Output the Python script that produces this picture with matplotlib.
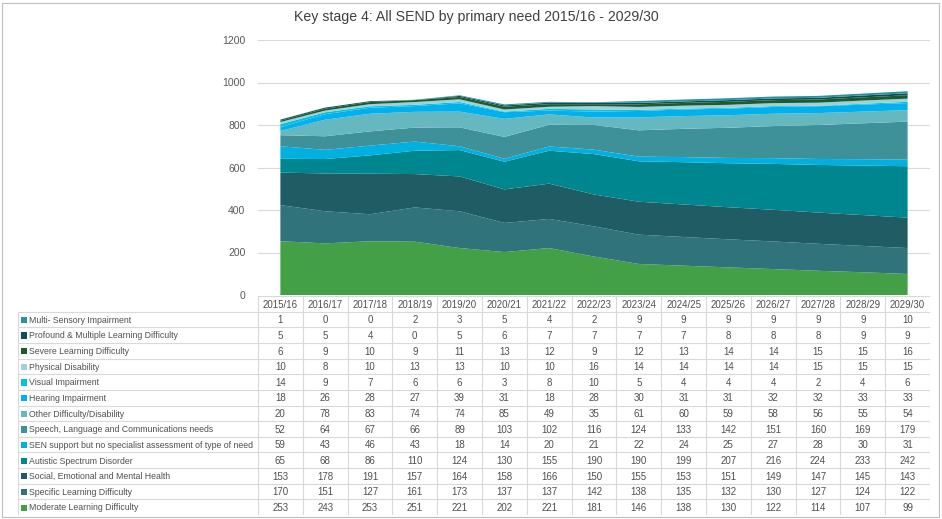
import numpy as np
import matplotlib.pyplot as plt
from matplotlib.patches import Rectangle

plt.rcParams['font.family'] = ['Liberation Sans', 'DejaVu Sans']

years = ['2015/16', '2016/17', '2017/18', '2018/19', '2019/20', '2020/21', '2021/22',
         '2022/23', '2023/24', '2024/25', '2025/26', '2026/27', '2027/28', '2028/29', '2029/30']

# table order (top to bottom); the stack is drawn in reverse
needs = [
    'Multi- Sensory Impairment',
    'Profound & Multiple Learning Difficulty',
    'Severe Learning Difficulty',
    'Physical Disability',
    'Visual Impairment',
    'Hearing Impairment',
    'Other Difficulty/Disability',
    'Speech, Language and Communications needs',
    'SEN support but no specialist assessment of type of need',
    'Autistic Spectrum Disorder',
    'Social, Emotional and Mental Health',
    'Specific Learning Difficulty',
    'Moderate Learning Difficulty',
]

multi_sensory = [1, 0, 0, 2, 3, 5, 4, 2, 9, 9, 9, 9, 9, 9, 10]
profound = [5, 5, 4, 0, 5, 6, 7, 7, 7, 7, 8, 8, 8, 9, 9]
severe = [6, 9, 10, 9, 11, 13, 12, 9, 12, 13, 14, 14, 15, 15, 16]
physical = [10, 8, 10, 13, 13, 10, 10, 16, 14, 14, 14, 14, 15, 15, 15]
visual = [14, 9, 7, 6, 6, 3, 8, 10, 5, 4, 4, 4, 2, 4, 6]
hearing = [18, 26, 28, 27, 39, 31, 18, 28, 30, 31, 31, 32, 32, 33, 33]
other = [20, 78, 83, 74, 74, 85, 49, 35, 61, 60, 59, 58, 56, 55, 54]
speech = [52, 64, 67, 66, 89, 103, 102, 116, 124, 133, 142, 151, 160, 169, 179]
sen_support = [59, 43, 46, 43, 18, 14, 20, 21, 22, 24, 25, 27, 28, 30, 31]
autistic = [65, 68, 86, 110, 124, 130, 155, 190, 190, 199, 207, 216, 224, 233, 242]
social = [153, 178, 191, 157, 164, 158, 166, 150, 155, 153, 151, 149, 147, 145, 143]
specific = [170, 151, 127, 161, 173, 137, 137, 142, 138, 135, 132, 130, 127, 124, 122]
moderate = [253, 243, 253, 251, 221, 202, 221, 181, 146, 138, 130, 122, 114, 107, 99]

series = [multi_sensory, profound, severe, physical, visual, hearing, other,
          speech, sen_support, autistic, social, specific, moderate]

colors = ['#2A93A2', '#0E4F5A', '#1F5B2A', '#9FD1D8', '#00C3E6', '#00B1EE',
          '#66B8C0', '#3F9199', '#00B0E0', '#00868F', '#1F5C63', '#31737A', '#43A047']

W, H = 942, 519
fig = plt.figure(figsize=(W / 100, H / 100), dpi=100)

# outer border
fig.patches.append(Rectangle((2 / W, 2 / H), 937 / W, 514 / H, transform=fig.transFigure,
                             fill=False, edgecolor='#BFBFBF', linewidth=0.8))

fig.text(476 / W, 1 - 17 / H, 'Key stage 4: All SEND by primary need 2015/16 - 2029/30',
         ha='center', va='center', fontsize=10.2, color='#404040')

# chart area
x0, x1 = 258, 930
ax = fig.add_axes([x0 / W, 1 - 295 / H, (x1 - x0) / W, (295 - 40) / H])
x = np.arange(len(years))
ax.stackplot(x, *[np.array(s) for s in series[::-1]], colors=colors[::-1], linewidth=0)
ax.set_xlim(-0.5, len(years) - 0.5)
ax.set_ylim(0, 1200)
ax.set_yticks(range(0, 1201, 200))
ax.yaxis.grid(True, color='#D9D9D9', linewidth=0.8)
ax.set_axisbelow(True)
ax.set_xticks([])
for sp in ax.spines.values():
    sp.set_visible(False)
ax.tick_params(axis='y', length=0, labelsize=7.5, labelcolor='#595959', pad=9)

# data table
lab_w = 240 / 44.8
tab = fig.add_axes([18 / W, 1 - 515 / H, (x1 - 18) / W, (515 - 296) / H])
tab.set_xlim(-lab_w, len(years))
tab.set_ylim(len(needs) + 1, 0)
tab.axis('off')
line_kw = dict(color='#D9D9D9', linewidth=0.8)
n_rows = len(needs)
# horizontal lines
tab.plot([0, len(years)], [0, 0], **line_kw)
for r in range(1, n_rows + 2):
    tab.plot([-lab_w, len(years)], [r, r], **line_kw)
# vertical lines
tab.plot([-lab_w, -lab_w], [1, n_rows + 1], **line_kw)
for c in range(len(years) + 1):
    tab.plot([c, c], [0, n_rows + 1], **line_kw)

txt = '#505050'
for c, yr in enumerate(years):
    tab.text(c + 0.5, 0.55, yr, ha='center', va='center', fontsize=7, color=txt)
for r, (name, vals, col) in enumerate(zip(needs, series, colors)):
    yc = r + 1.55
    tab.add_patch(Rectangle((-lab_w + 0.07, yc - 0.22), 0.12, 0.4, color=col, linewidth=0))
    tab.text(-lab_w + 0.24, yc, name, ha='left', va='center', fontsize=6.3, color=txt)
    for c, v in enumerate(vals):
        tab.text(c + 0.5, yc, str(v), ha='center', va='center', fontsize=7, color=txt)

fig.savefig('out.png', dpi=100)
